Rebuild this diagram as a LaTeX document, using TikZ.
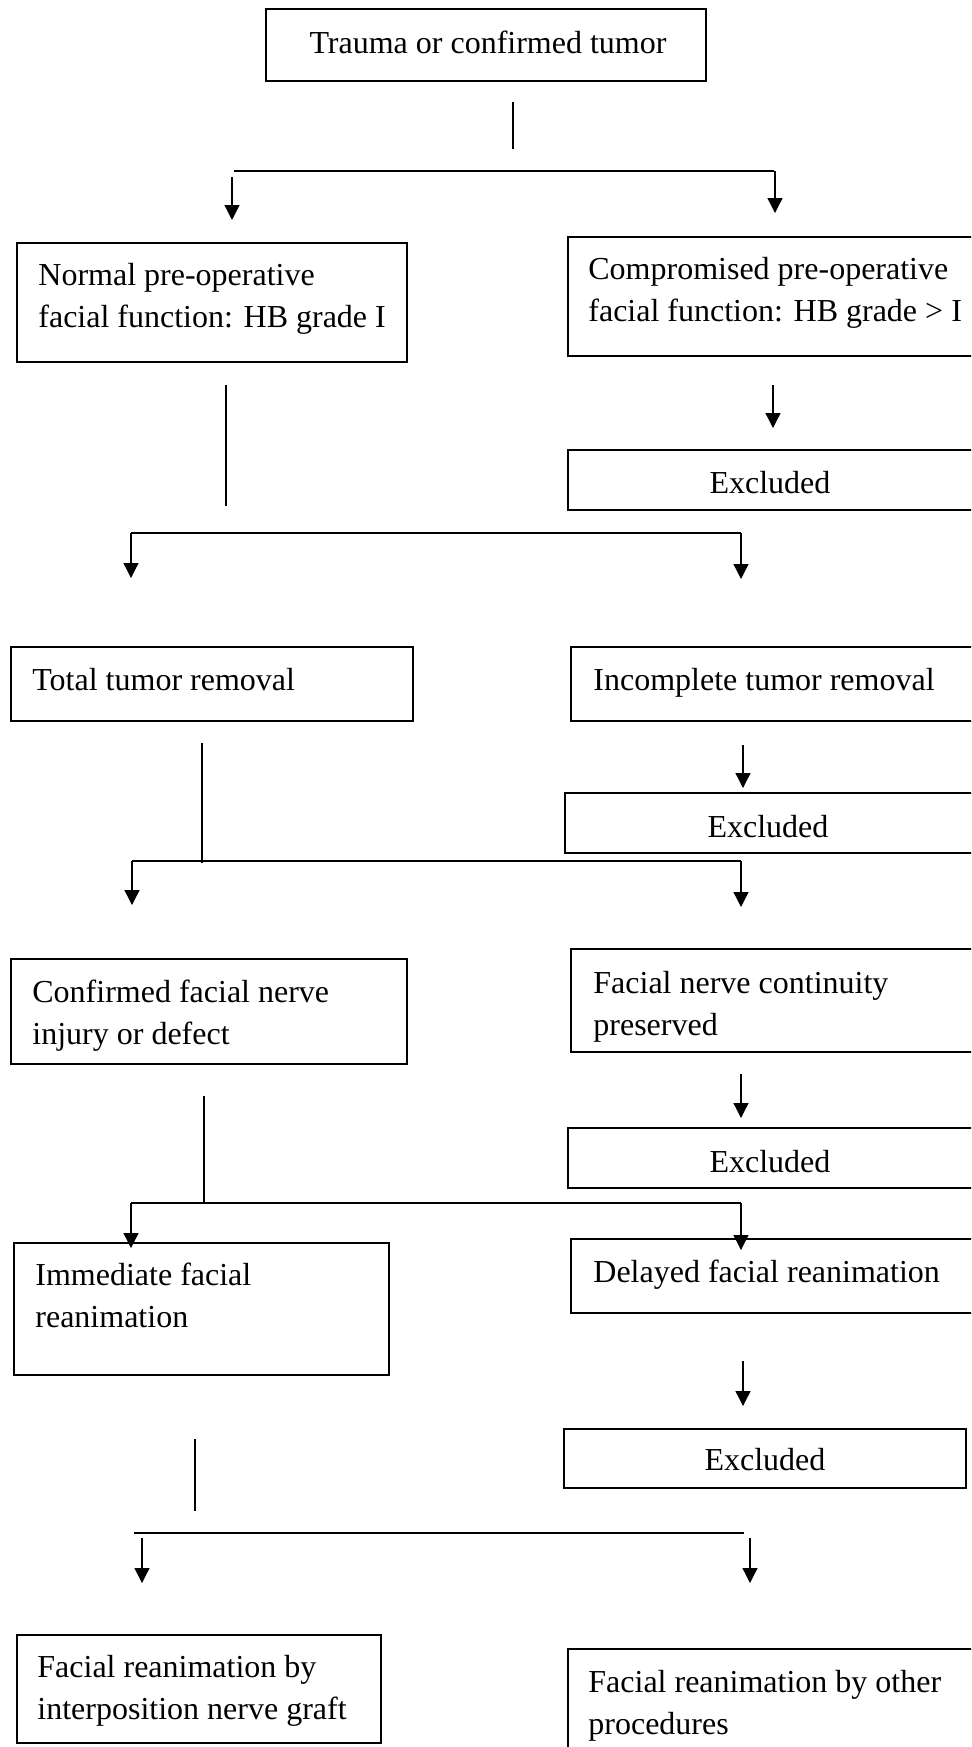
\documentclass[tikz,border=0pt]{standalone}
\usepackage{fontspec}
\setmainfont{Liberation Serif}
\usetikzlibrary{arrows.meta,fit}

\tikzset{
  box/.style={draw, line width=0.9pt, inner sep=0pt},
  txt/.style={inner sep=0pt, align=left, font=\fontsize{16}{20.85}\selectfont},
  bar/.style={line width=1.1pt},
  stem/.style={line width=0.8pt},
  arr/.style={line width=0.65pt, -{Triangle[length=7.5pt,width=7.5pt]}},
}

\begin{document}
\begin{tikzpicture}[x=0.5pt,y=-0.5pt]
    \clip (0,0) rectangle (971,1747);

    % boxes
    \node[box, fit={(266,9)(706,81)}] (trauma) {};
    \node[box, fit={(17,243)(407,362)}] (normal) {};
    \node[box, fit={(568,237)(985,356)}] (compromised) {};
    \node[box, fit={(568,450)(985,510)}] (excla) {};
    \node[box, fit={(11,647)(413,721)}] (total) {};
    \node[box, fit={(571,647)(985,721)}] (incomplete) {};
    \node[box, fit={(565,793)(985,853)}] (exclb) {};
    \node[box, fit={(11,959)(407,1064)}] (injury) {};
    \node[box, fit={(571,949)(985,1052)}] (continuity) {};
    \node[box, fit={(568,1128)(985,1188)}] (exclc) {};
    \node[box, fit={(14,1243)(389,1375)}] (immediate) {};
    \node[box, fit={(571,1239)(985,1313)}] (delayed) {};
    \node[box, fit={(564,1429)(966,1488)}] (excld) {};
    \node[box, fit={(17,1635)(381,1743)}] (graft) {};
    \node[box, fit={(568,1649)(985,1760)}] (other) {};

    % texts
    \node[txt, anchor=base] (trauma-t) at (488,53) {Trauma or confirmed tumor};
    \node[txt, anchor=north west] (normal-t) at (38,256) {\strut Normal pre-operative\\\strut facial function: HB grade I};
    \node[txt, anchor=north west] (compromised-t) at (588,250) {\strut Compromised pre-operative\\\strut facial function: HB grade > I};
    \node[txt, anchor=base] (excla-t) at (770,493) {Excluded};
    \node[txt, anchor=base west] (total-t) at (32,690) {Total tumor removal};
    \node[txt, anchor=base west] (incomplete-t) at (593,690) {Incomplete tumor removal};
    \node[txt, anchor=base] (exclb-t) at (768,837) {Excluded};
    \node[txt, anchor=north west] (injury-t) at (32,973) {\strut Confirmed facial nerve\\\strut injury or defect};
    \node[txt, anchor=north west] (continuity-t) at (593,964) {\strut Facial nerve continuity\\\strut preserved};
    \node[txt, anchor=base] (exclc-t) at (770,1172) {Excluded};
    \node[txt, anchor=north west] (immediate-t) at (35,1256) {\strut Immediate facial\\\strut reanimation};
    \node[txt, anchor=base west] (delayed-t) at (593,1282) {Delayed facial reanimation};
    \node[txt, anchor=base] (excld-t) at (765,1470) {Excluded};
    \node[txt, anchor=north west] (graft-t) at (37,1648) {\strut Facial reanimation by\\\strut interposition nerve graft};
    \node[txt, anchor=north west] (other-t) at (588,1663) {\strut Facial reanimation by other\\\strut procedures};

    % line ends
    \coordinate (v1a) at (513,102);  \coordinate (v1b) at (513,149);
    \coordinate (h1a) at (234,171);  \coordinate (h1b) at (774,171);
    \coordinate (l1a) at (232,177);  \coordinate (l1b) at (232,220);
    \coordinate (r1a) at (775,171);  \coordinate (r1b) at (775,213);

    \coordinate (v2a) at (226,385);  \coordinate (v2b) at (226,506);
    \coordinate (x2a) at (773,385);  \coordinate (x2b) at (773,428);
    \coordinate (h2a) at (131,533);  \coordinate (h2b) at (741,533);
    \coordinate (l2b) at (131,578);  \coordinate (r2b) at (741,579);

    \coordinate (v3a) at (202,743);  \coordinate (v3b) at (202,863);
    \coordinate (x3a) at (743,745);  \coordinate (x3b) at (743,788);
    \coordinate (h3a) at (132,861);  \coordinate (h3b) at (741,861);
    \coordinate (l3b) at (132,905);  \coordinate (r3b) at (741,907);

    \coordinate (v4a) at (204,1096); \coordinate (v4b) at (204,1203);
    \coordinate (x4a) at (741,1074); \coordinate (x4b) at (741,1118);
    \coordinate (h4a) at (131,1203); \coordinate (h4b) at (741,1203);
    \coordinate (l4b) at (131,1248); \coordinate (r4b) at (741,1250);

    \coordinate (x5a) at (743,1361); \coordinate (x5b) at (743,1406);
    \coordinate (v5a) at (195,1439); \coordinate (v5b) at (195,1511);
    \coordinate (h5a) at (134,1533); \coordinate (h5b) at (744,1533);
    \coordinate (l5a) at (142,1538); \coordinate (l5b) at (142,1583);
    \coordinate (r5a) at (750,1538); \coordinate (r5b) at (750,1583);

    % connectors
    \draw[stem] (v1a) -- (v1b);
    \draw[bar] (h1a) -- (h1b);
    \draw[arr] (l1a) -- (l1b);
    \draw[arr] (r1a) -- (r1b);

    \draw[stem] (v2a) -- (v2b);
    \draw[arr] (x2a) -- (x2b);
    \draw[bar] (h2a) -- (h2b);
    \draw[arr] (h2a) -- (l2b);
    \draw[arr] (h2b) -- (r2b);

    \draw[stem] (v3a) -- (v3b);
    \draw[arr] (x3a) -- (x3b);
    \draw[bar] (h3a) -- (h3b);
    \draw[arr] (h3a) -- (l3b);
    \draw[arr] (h3b) -- (r3b);

    \draw[stem] (v4a) -- (v4b);
    \draw[arr] (x4a) -- (x4b);
    \draw[bar] (h4a) -- (h4b);
    \draw[arr] (h4a) -- (l4b);
    \draw[arr] (h4b) -- (r4b);

    \draw[arr] (x5a) -- (x5b);
    \draw[stem] (v5a) -- (v5b);
    \draw[bar] (h5a) -- (h5b);
    \draw[arr] (l5a) -- (l5b);
    \draw[arr] (r5a) -- (r5b);
\end{tikzpicture}
\end{document}
